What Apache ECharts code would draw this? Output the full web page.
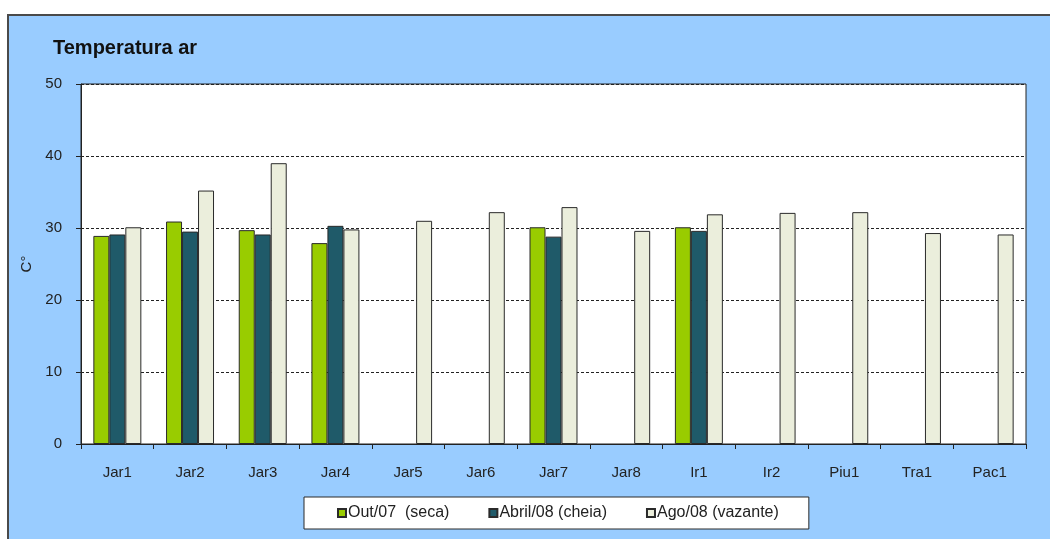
<!DOCTYPE html>
<html>
<head>
<meta charset="utf-8">
<script src="https://cdn.jsdelivr.net/npm/echarts@6/dist/echarts.min.js"></script>
<style>
  html, body { margin: 0; padding: 0; background: #fff; }
  #frame {
    position: absolute; left: 7px; top: 14px; width: 1050px; height: 539px;
    background: #99ccff; border-left: 2px solid #4a4a4a; border-top: 2px solid #4a4a4a;
  }
  #chart { position: absolute; left: 0; top: 0; width: 1050px; height: 539px; }
</style>
</head>
<body>
<div id="frame"></div>
<div id="chart"></div>
<script>
const categories = ['Jar1', 'Jar2', 'Jar3', 'Jar4', 'Jar5', 'Jar6', 'Jar7', 'Jar8', 'Ir1', 'Ir2', 'Piu1', 'Tra1', 'Pac1'];
const seriesNames = ['Out/07  (seca)', 'Abril/08 (cheia)', 'Ago/08 (vazante)'];
const out07 = [28.9, 30.9, 29.7, 27.9, null, null, 30.1, null, 30.1, null, null, null, null];
const abril08 = [29.1, 29.5, 29.1, 30.3, null, null, 28.8, null, 29.6, null, null, null, null];
const ago08 = [30.1, 35.2, 39.0, 29.8, 31.0, 32.2, 32.9, 29.6, 31.9, 32.1, 32.2, 29.3, 29.1];
const yTicks = [0, 10, 20, 30, 40, 50];

const font = 'Liberation Sans, Arial, sans-serif';
const colors = ['#99cc00', '#1f5a69', '#ebeedc'];

const chart = echarts.init(document.getElementById('chart'), null, { renderer: 'canvas' });

const mkSeries = (name, data, i) => ({
  name,
  type: 'bar',
  data,
  barGap: '0%',
  barCategoryGap: '34%',
  itemStyle: { color: colors[i], borderColor: '#2a2a2a', borderWidth: 1 },
  emphasis: { disabled: true }
});

chart.setOption({
  animation: false,
  backgroundColor: 'transparent',
  title: {
    text: 'Temperatura ar',
    left: 48,
    top: 33,
    textStyle: { fontFamily: font, fontSize: 20, fontWeight: 'bold', color: '#111' }
  },
  legend: {
    left: 304,
    top: 497,
    padding: [8, 30, 8, 33],
    itemGap: 39,
    itemWidth: 8,
    itemHeight: 8,
    icon: 'rect',
    backgroundColor: '#fff',
    borderColor: '#2a2a2a',
    borderWidth: 1,
    borderRadius: 0,
    selectedMode: false,
    textStyle: { fontFamily: font, fontSize: 16, color: '#222', padding: [0, 0, 0, -3] },
    data: seriesNames
  },
  grid: {
    left: 81, top: 84, right: 24, bottom: 95,
    show: true, backgroundColor: '#fff', borderColor: '#222', borderWidth: 1,
    containLabel: false
  },
  xAxis: {
    type: 'category',
    data: categories,
    boundaryGap: true,
    axisLine: { show: true, lineStyle: { color: '#222', width: 1 } },
    axisTick: { show: true, length: 5, inside: false, lineStyle: { color: '#222' } },
    axisLabel: { margin: 21, fontFamily: font, fontSize: 15, color: '#222' }
  },
  yAxis: {
    type: 'value',
    min: yTicks[0],
    max: yTicks[yTicks.length - 1],
    interval: 10,
    name: 'C°',
    nameLocation: 'middle',
    nameGap: 42,
    nameRotate: 90,
    nameTextStyle: { fontFamily: font, fontSize: 15, color: '#222' },
    axisLine: { show: true, lineStyle: { color: '#222', width: 1 } },
    axisTick: { show: true, length: 5, lineStyle: { color: '#222' } },
    axisLabel: { margin: 19, fontFamily: font, fontSize: 15, color: '#222' },
    splitLine: { show: true, lineStyle: { color: '#222', type: [3, 2], width: 1 } }
  },
  series: [
    mkSeries(seriesNames[0], out07, 0),
    mkSeries(seriesNames[1], abril08, 1),
    mkSeries(seriesNames[2], ago08, 2)
  ]
});
</script>
</body>
</html>
